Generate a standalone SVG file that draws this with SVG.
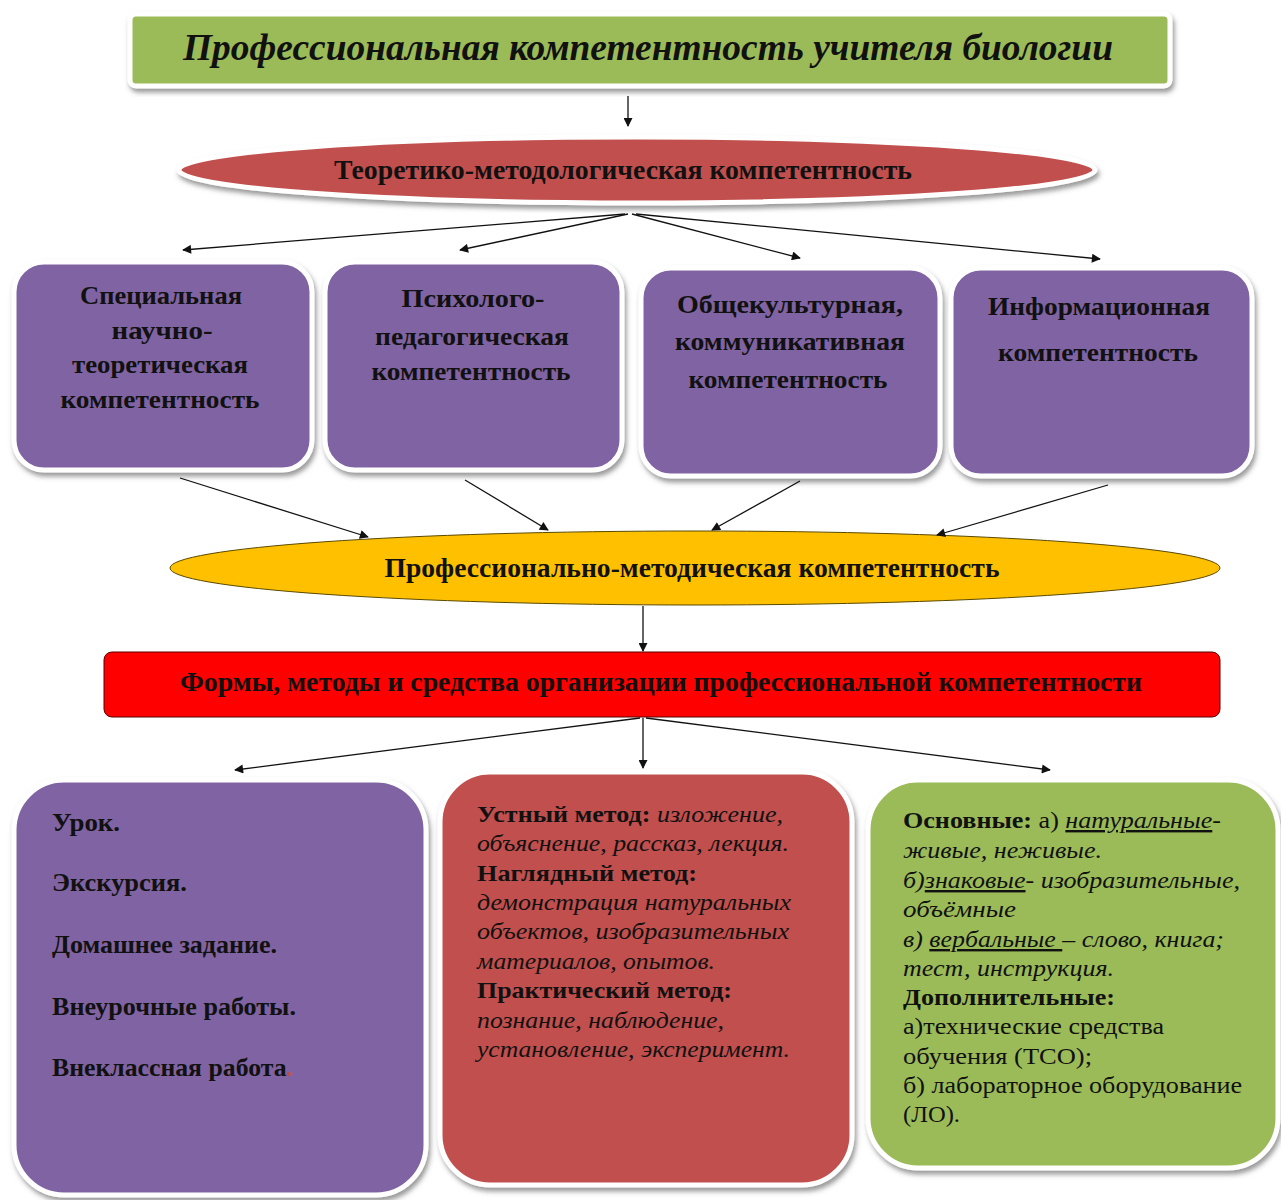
<svg xmlns="http://www.w3.org/2000/svg" width="1281" height="1200" viewBox="0 0 1281 1200">
<style>
text{font-family:"Liberation Serif","Times New Roman",serif;fill:#111}
.b{font-weight:bold}
.i{font-style:italic}
.mid{text-anchor:middle}
.box{stroke:#fff;stroke-width:5}
.con{stroke:#111;stroke-width:1.3;fill:none;marker-end:url(#ah)}
.t21{font-size:25px;font-weight:bold}
.t22{font-size:24px}
</style>
<defs>
<marker id="ah" viewBox="0 0 10 10" refX="9" refY="5" markerWidth="10" markerHeight="9" markerUnits="userSpaceOnUse" orient="auto"><path d="M0,0 L10,5 L0,10 z" fill="#111"/></marker>
<filter id="sh" x="-5%" y="-10%" width="110%" height="125%"><feDropShadow dx="2" dy="4" stdDeviation="2.5" flood-color="#555" flood-opacity="0.6"/></filter>
</defs>
<rect width="1281" height="1200" fill="#fff"/>

<g id="title">
<rect class="box" x="130" y="14" width="1040" height="72" rx="6" fill="#9BBB59" filter="url(#sh)"/>
<text class="mid b i" x="648" y="60" font-size="38" textLength="930" lengthAdjust="spacingAndGlyphs">Профессиональная компетентность учителя биологии</text>
</g>

<g id="theory">
<ellipse class="box" cx="637" cy="170" rx="458" ry="33" fill="#C0504D" filter="url(#sh)"/>
<text class="mid b" x="623" y="179" font-size="27" textLength="578" lengthAdjust="spacingAndGlyphs">Теоретико-методологическая компетентность</text>
</g>

<g id="special">
<rect class="box" x="14" y="262" width="298" height="208" rx="30" fill="#8064A2" filter="url(#sh)"/>
<text class="mid t21" x="161" y="304" textLength="162" lengthAdjust="spacingAndGlyphs">Специальная</text>
<text class="mid t21" x="162" y="339" textLength="101" lengthAdjust="spacingAndGlyphs">научно-</text>
<text class="mid t21" x="160" y="373" textLength="176" lengthAdjust="spacingAndGlyphs">теоретическая</text>
<text class="mid t21" x="160" y="408" textLength="199" lengthAdjust="spacingAndGlyphs">компетентность</text>
</g>
<g id="psych">
<rect class="box" x="325" y="262" width="297" height="208" rx="30" fill="#8064A2" filter="url(#sh)"/>
<text class="mid t21" x="473" y="307" textLength="143" lengthAdjust="spacingAndGlyphs">Психолого-</text>
<text class="mid t21" x="472" y="345" textLength="194" lengthAdjust="spacingAndGlyphs">педагогическая</text>
<text class="mid t21" x="471" y="380" textLength="199" lengthAdjust="spacingAndGlyphs">компетентность</text>
</g>
<g id="cultural">
<rect class="box" x="641" y="268" width="299" height="208" rx="30" fill="#8064A2" filter="url(#sh)"/>
<text class="mid t21" x="790" y="313" textLength="226" lengthAdjust="spacingAndGlyphs">Общекультурная,</text>
<text class="mid t21" x="790" y="350" textLength="230" lengthAdjust="spacingAndGlyphs">коммуникативная</text>
<text class="mid t21" x="788" y="388" textLength="199" lengthAdjust="spacingAndGlyphs">компетентность</text>
</g>
<g id="info">
<rect class="box" x="951" y="268" width="301" height="208" rx="30" fill="#8064A2" filter="url(#sh)"/>
<text class="mid t21" x="1099" y="315" textLength="222" lengthAdjust="spacingAndGlyphs">Информационная</text>
<text class="mid t21" x="1098" y="361" textLength="200" lengthAdjust="spacingAndGlyphs">компетентность</text>
</g>

<g id="profmethod">
<ellipse cx="695" cy="568" rx="525" ry="37" fill="#FFC000" stroke="#5a4a00" stroke-width="1"/>
<text class="mid b" x="692" y="577" font-size="27" textLength="615" lengthAdjust="spacingAndGlyphs">Профессионально-методическая компетентность</text>
</g>

<g id="forms">
<rect x="104" y="652" width="1116" height="65" rx="8" fill="#FF0000" stroke="#5a0000" stroke-width="1"/>
<text class="mid b" x="661" y="691" font-size="27" textLength="962" lengthAdjust="spacingAndGlyphs">Формы, методы и средства организации профессиональной компетентности</text>
</g>

<g id="formsbox">
<rect class="box" x="14" y="780" width="412" height="415" rx="50" fill="#8064A2" filter="url(#sh)"/>
<text class="t21" x="52" y="831" textLength="68" lengthAdjust="spacingAndGlyphs">Урок.</text>
<text class="t21" x="52" y="891" textLength="135" lengthAdjust="spacingAndGlyphs">Экскурсия.</text>
<text class="t21" x="52" y="953" textLength="225" lengthAdjust="spacingAndGlyphs">Домашнее задание.</text>
<text class="t21" x="52" y="1015" textLength="244" lengthAdjust="spacingAndGlyphs">Внеурочные работы.</text>
<text class="t21" x="52" y="1076" textLength="241" lengthAdjust="spacingAndGlyphs">Внеклассная работа<tspan fill="#c0504d">.</tspan></text>
</g>

<g id="methodsbox">
<rect class="box" x="440" y="772" width="412" height="413" rx="50" fill="#C0504D" filter="url(#sh)"/>
<g class="t22">
<text x="477" y="822" textLength="306" lengthAdjust="spacingAndGlyphs"><tspan class="b">Устный метод:</tspan><tspan class="i"> изложение,</tspan></text>
<text class="i" x="477" y="851" textLength="312" lengthAdjust="spacingAndGlyphs">объяснение, рассказ, лекция.</text>
<text class="b" x="477" y="881" textLength="220" lengthAdjust="spacingAndGlyphs">Наглядный метод:</text>
<text class="i" x="477" y="910" textLength="314" lengthAdjust="spacingAndGlyphs">демонстрация натуральных</text>
<text class="i" x="477" y="939" textLength="312" lengthAdjust="spacingAndGlyphs">объектов, изобразительных</text>
<text class="i" x="477" y="969" textLength="238" lengthAdjust="spacingAndGlyphs">материалов, опытов.</text>
<text class="b" x="477" y="998" textLength="255" lengthAdjust="spacingAndGlyphs">Практический метод:</text>
<text class="i" x="477" y="1028" textLength="247" lengthAdjust="spacingAndGlyphs">познание, наблюдение,</text>
<text class="i" x="477" y="1057" textLength="313" lengthAdjust="spacingAndGlyphs">установление, эксперимент.</text>
</g>
</g>

<g id="meansbox">
<rect class="box" x="868" y="780" width="410" height="388" rx="50" fill="#9BBB59" filter="url(#sh)"/>
<g class="t22">
<text x="903" y="828" textLength="318" lengthAdjust="spacingAndGlyphs"><tspan class="b">Основные:</tspan> а) <tspan class="i" text-decoration="underline">натуральные</tspan><tspan class="i">-</tspan></text>
<text class="i" x="903" y="858" textLength="199" lengthAdjust="spacingAndGlyphs">живые, неживые.</text>
<text x="903" y="888" textLength="337" lengthAdjust="spacingAndGlyphs"><tspan class="i">б)</tspan><tspan class="i" text-decoration="underline">знаковые</tspan><tspan class="i">- изобразительные,</tspan></text>
<text class="i" x="903" y="917" textLength="113" lengthAdjust="spacingAndGlyphs">объёмные</text>
<text class="i" x="903" y="947" textLength="321" lengthAdjust="spacingAndGlyphs">в) <tspan text-decoration="underline">вербальные </tspan>– слово, книга;</text>
<text class="i" x="903" y="976" textLength="211" lengthAdjust="spacingAndGlyphs">тест, инструкция.</text>
<text class="b" x="903" y="1005" textLength="212" lengthAdjust="spacingAndGlyphs">Дополнительные:</text>
<text x="903" y="1034" textLength="261" lengthAdjust="spacingAndGlyphs">а)технические средства</text>
<text x="903" y="1064" textLength="189" lengthAdjust="spacingAndGlyphs">обучения (ТСО);</text>
<text x="903" y="1093" textLength="339" lengthAdjust="spacingAndGlyphs">б) лабораторное оборудование</text>
<text x="903" y="1122" textLength="57" lengthAdjust="spacingAndGlyphs">(ЛО).</text>
</g>
</g>

<g id="connectors">
<line class="con" x1="628" y1="96" x2="628" y2="126"/>
<line class="con" x1="625" y1="214" x2="183" y2="250"/>
<line class="con" x1="628" y1="214" x2="460" y2="250"/>
<line class="con" x1="632" y1="214" x2="800" y2="258"/>
<line class="con" x1="636" y1="214" x2="1100" y2="259"/>
<line class="con" x1="180" y1="478" x2="368" y2="537"/>
<line class="con" x1="465" y1="480" x2="548" y2="530"/>
<line class="con" x1="800" y1="481" x2="712" y2="530"/>
<line class="con" x1="1108" y1="485" x2="937" y2="535"/>
<line class="con" x1="643" y1="606" x2="643" y2="651"/>
<line class="con" x1="640" y1="718" x2="235" y2="770"/>
<line class="con" x1="643" y1="718" x2="643" y2="768"/>
<line class="con" x1="646" y1="718" x2="1050" y2="770"/>
</g>
</svg>
